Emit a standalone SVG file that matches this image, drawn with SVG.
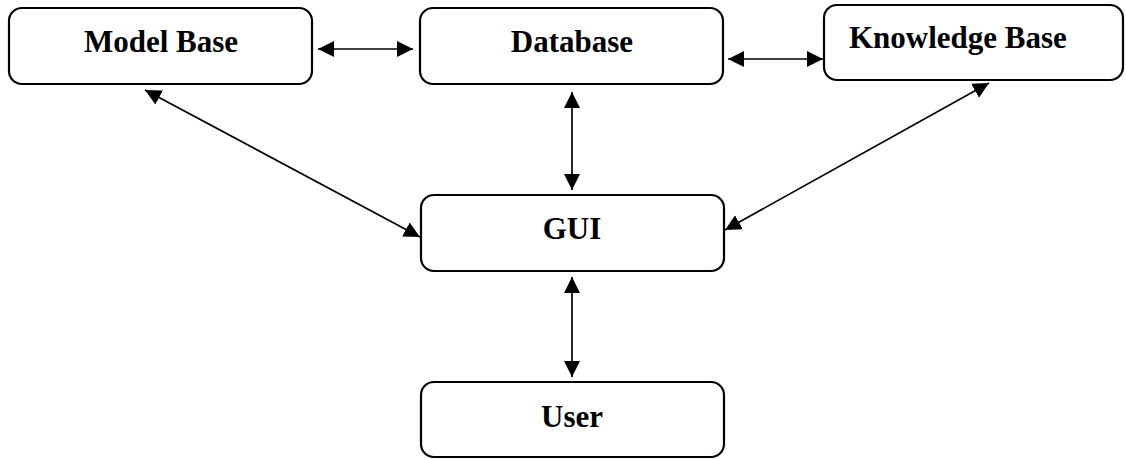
<svg xmlns="http://www.w3.org/2000/svg" width="1126" height="459" viewBox="0 0 1126 459">
<style>
.box{fill:#fff;stroke:#000;stroke-width:2.2}
.lbl{font-family:"Liberation Serif","Times New Roman",serif;font-weight:bold;font-size:31px;fill:#000}
.c{text-anchor:middle}
.con{stroke:#000;stroke-width:1.7;fill:none;marker-start:url(#ah);marker-end:url(#ah)}
</style>
<defs>
<marker id="ah" markerUnits="userSpaceOnUse" markerWidth="18" markerHeight="18" viewBox="0 0 18 18" refX="16" refY="9" orient="auto-start-reverse">
<path d="M0,1 L16,9 L0,17 z" fill="#000"/>
</marker>
</defs>
<rect width="1126" height="459" fill="#fff"/>
<g id="connectors">
<line class="con" x1="318" y1="49" x2="413" y2="49"/>
<line class="con" x1="728" y1="59" x2="823" y2="59"/>
<line class="con" x1="572" y1="92" x2="572" y2="190"/>
<line class="con" x1="145" y1="90" x2="420" y2="237"/>
<line class="con" x1="989" y1="83" x2="725" y2="230"/>
<line class="con" x1="572" y1="277" x2="572" y2="377"/>
</g>
<g id="model-base">
<rect class="box" x="9" y="8" width="303" height="76" rx="13"/>
<text class="lbl c" x="161" y="52">Model Base</text>
</g>
<g id="database">
<rect class="box" x="420" y="8" width="303" height="76" rx="13"/>
<text class="lbl c" x="572" y="52">Database</text>
</g>
<g id="knowledge-base">
<rect class="box" x="824" y="5" width="299" height="75" rx="13"/>
<text class="lbl" x="849" y="48">Knowledge Base</text>
</g>
<g id="gui">
<rect class="box" x="421" y="195" width="303" height="76" rx="13"/>
<text class="lbl c" x="572" y="239">GUI</text>
</g>
<g id="user">
<rect class="box" x="421" y="382" width="303" height="75" rx="13"/>
<text class="lbl c" x="572" y="427">User</text>
</g>
</svg>
